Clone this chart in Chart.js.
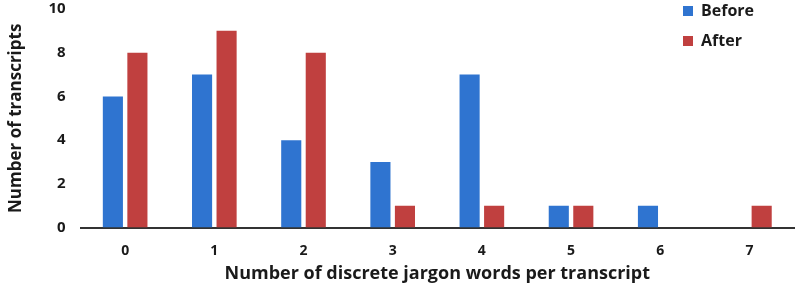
<!DOCTYPE html>
<html>
<head>
<meta charset="utf-8">
<script src="https://cdn.jsdelivr.net/npm/chart.js@4"></script>
<style>
  html, body { margin: 0; padding: 0; background: #fff; }
  #wrap { width: 796px; height: 285px; }
</style>
</head>
<body>
<div id="wrap"><canvas id="barChart"></canvas></div>
<script>
// data
var categories = ["0", "1", "2", "3", "4", "5", "6", "7"];
var beforeValues = [6, 7, 4, 3, 7, 1, 1, 0];
var afterValues = [8, 9, 8, 1, 1, 1, 0, 1];
var yTicks = [0, 2, 4, 6, 8, 10];

var fontFamily = '"Open Sans", sans-serif';
var textColor = '#1a1a1a';

// move the (chartArea) legend to the top right corner
var legendRight = {
    id: 'legendRight',
    afterLayout: function (chart) {
        var lg = chart.legend;
        var w = lg.width;
        lg.left = 669;
        lg.right = lg.left + w;
        lg.top = -11;
    }
};

var ctx = document.getElementById("barChart").getContext("2d");

var myChart = new Chart(ctx, {
    type: "bar",
    data: {
        labels: categories,
        datasets: [
            {
                label: "Before",
                data: beforeValues,
                backgroundColor: "#2f74d0",
                borderWidth: 0,
            },
            {
                label: "After",
                data: afterValues,
                backgroundColor: "#c0403f",
                borderWidth: 0,
            },
        ],
    },
    options: {
        responsive: true,
        maintainAspectRatio: false,
        animation: false,
        datasets: {
            bar: {
                categoryPercentage: 0.55,
                barPercentage: 0.82,
            },
        },
        layout: {
            padding: { top: 0, right: 2, left: 0, bottom: 2 },
        },
        plugins: {
            legend: {
                position: 'chartArea',
                align: 'start',
                labels: {
                    boxWidth: 10,
                    boxHeight: 10,
                    padding: 14,
                    color: textColor,
                    font: { size: 16, weight: 'bold', family: fontFamily },
                },
            },
            tooltip: { enabled: false },
        },
        scales: {
            x: {
                grid: { display: false },
                border: { display: true, color: '#333', width: 2 },
                ticks: {
                    color: textColor,
                    padding: 7,
                    font: { size: 14, weight: 'bold', family: fontFamily },
                },
                title: {
                    display: true,
                    text: "Number of discrete jargon words per transcript",
                    color: textColor,
                    padding: { top: -3, bottom: -2 },
                    font: { size: 18, weight: 'bold', family: fontFamily },
                },
            },
            y: {
                min: 0,
                max: 10,
                grid: { display: false, tickLength: 15 },
                border: { display: false },
                afterBuildTicks: function (axis) {
                    axis.ticks = yTicks.map(function (v) { return { value: v }; });
                },
                ticks: {
                    color: textColor,
                    padding: 0,
                    font: { size: 15, weight: 'bold', family: fontFamily },
                },
                title: {
                    display: true,
                    text: "Number of transcripts",
                    color: textColor,
                    padding: { top: 6, bottom: 22 },
                    font: { size: 17, weight: 'bold', family: fontFamily },
                },
            },
        },
    },
    plugins: [legendRight],
});
</script>
</body>
</html>
